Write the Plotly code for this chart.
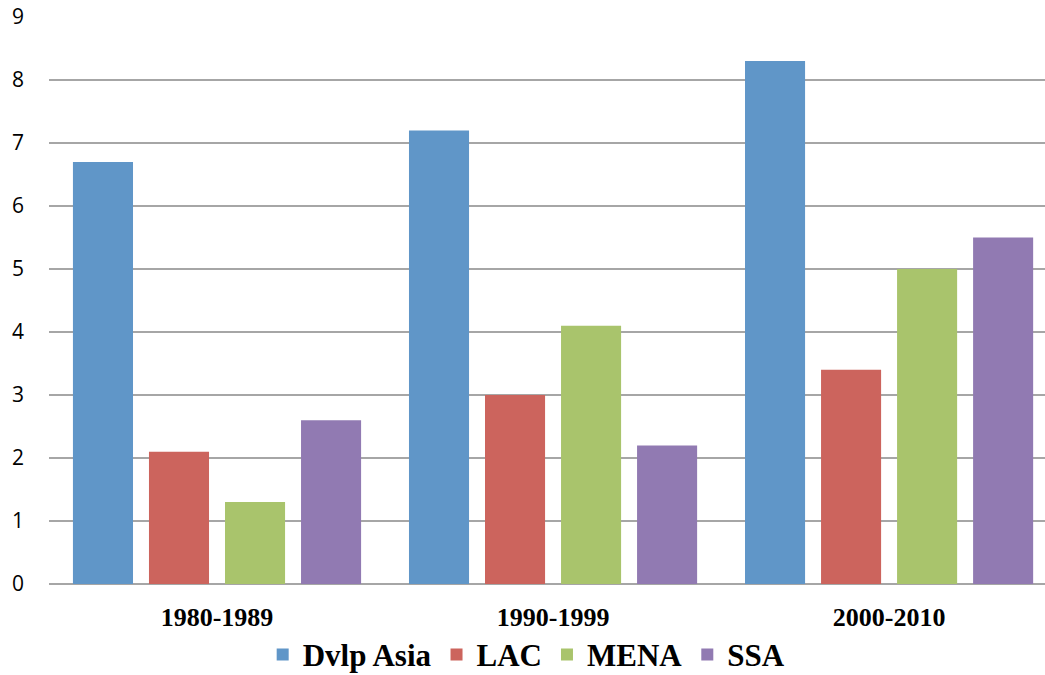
import plotly.graph_objects as go

categories = ["1980-1989", "1990-1999", "2000-2010"]
series_names = ["Dvlp Asia", "LAC", "MENA", "SSA"]
dvlp_asia = [6.7, 7.2, 8.3]
lac = [2.1, 3.0, 3.4]
mena = [1.3, 4.1, 5.0]
ssa = [2.6, 2.2, 5.5]
colors = ["#6096C8", "#CC645D", "#A9C46C", "#917AB2"]
y_ticks = [0, 1, 2, 3, 4, 5, 6, 7, 8, 9]

fig = go.Figure()
for name, vals, col in zip(series_names, [dvlp_asia, lac, mena, ssa], colors):
    fig.add_trace(go.Bar(
        x=categories, y=vals, name=name,
        marker=dict(color=col, line=dict(width=0)),
    ))

fig.update_layout(
    width=1045, height=675,
    margin=dict(l=49, r=0, t=17, b=91),
    paper_bgcolor="white", plot_bgcolor="white",
    barmode="group", bargap=0.095, bargroupgap=0.21,
    showlegend=True,
    legend=dict(
        orientation="h", xref="container", yref="container",
        x=0.504, xanchor="center", y=0.03, yanchor="middle",
        font=dict(family="Liberation Serif", size=31, color="black", weight="bold"),
        itemsizing="constant", traceorder="normal", itemwidth=30,
    ),
    xaxis=dict(
        type="category", range=[-0.5, 2.464], automargin=False,
        showgrid=False, showline=False, ticks="",
        tickfont=dict(family="Liberation Serif", size=26, color="black", weight="bold"),
        ticklabelstandoff=15,
    ),
    yaxis=dict(
        range=[0, 9], tickvals=y_ticks, automargin=False,
        showgrid=True, gridcolor="#A6A6A6", gridwidth=2,
        zeroline=True, zerolinecolor="#A6A6A6", zerolinewidth=2,
        showline=False, ticks="",
        tickfont=dict(family="Open Sans", size=21, color="black"),
        ticklabelstandoff=24,
    ),
)

fig.write_html(
    "out.html",
    config={"displayModeBar": False},
    post_script="document.body.style.margin='0';document.body.style.overflow='hidden';",
)
